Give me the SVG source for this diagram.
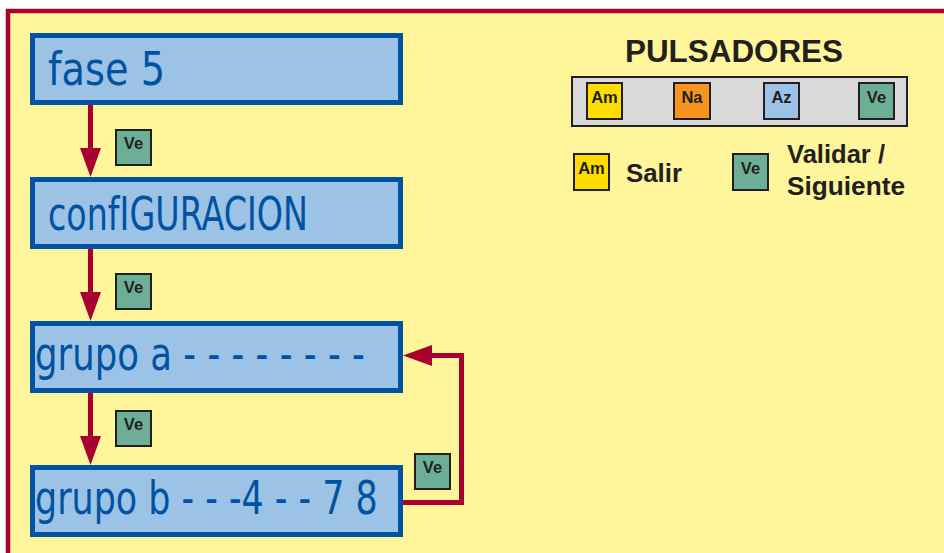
<svg xmlns="http://www.w3.org/2000/svg" width="944" height="553" viewBox="0 0 944 553">
  <defs>
    <style>
      .frame { fill: #fff59b; stroke: #a8002f; stroke-width: 4.5; }
      .state { fill: #9cc2e6; stroke: #0052a2; stroke-width: 5; }
      .state-text { font-family: "DejaVu Sans", "Liberation Sans", sans-serif; font-size: 46px; fill: #0052a2; }
      .wire { fill: none; stroke: #a8002f; stroke-width: 5; }
      .key { stroke: #231f20; stroke-width: 2; }
      .key-text { font-family: "Liberation Sans", Arial, sans-serif; font-weight: bold; font-size: 16.5px; fill: #231f20; text-anchor: middle; }
      .am { fill: #ffdc00; }
      .na { fill: #f7941e; }
      .az { fill: #9cc2e6; }
      .ve { fill: #6dae96; }
      .label { font-family: "Liberation Sans", Arial, sans-serif; font-weight: bold; fill: #231f20; }
    </style>
    <marker id="head" markerUnits="userSpaceOnUse" markerWidth="29" markerHeight="21" refX="0" refY="10.5" orient="auto">
      <path d="M0,0 L29,10.5 L0,21 Z" fill="#a8002f"/>
    </marker>
  </defs>

  <!-- background and frame -->
  <rect x="0" y="0" width="944" height="553" fill="#ffffff"/>
  <rect class="frame" x="8" y="11" width="960" height="560"/>

  <!-- connectors -->
  <g id="connectors">
    <path class="wire" d="M90.5,105 V148" marker-end="url(#head)"/>
    <path class="wire" d="M90.5,249 V292" marker-end="url(#head)"/>
    <path class="wire" d="M90.5,393 V436" marker-end="url(#head)"/>
    <path class="wire" d="M403,502.5 H461.5 V355.5 H432" marker-end="url(#head)"/>
    <g id="key-ve-1">
      <rect class="key ve" x="116" y="130" width="35" height="35"/>
      <text class="key-text" x="133.5" y="149">Ve</text>
    </g>
    <g id="key-ve-2">
      <rect class="key ve" x="116" y="274" width="35" height="35"/>
      <text class="key-text" x="133.5" y="293">Ve</text>
    </g>
    <g id="key-ve-3">
      <rect class="key ve" x="116" y="411" width="35" height="35"/>
      <text class="key-text" x="133.5" y="430">Ve</text>
    </g>
    <g id="key-ve-4">
      <rect class="key ve" x="415" y="454" width="35" height="35"/>
      <text class="key-text" x="432.5" y="473">Ve</text>
    </g>
  </g>

  <!-- display states (text narrowed to a condensed face) -->
  <g id="fase5">
    <rect class="state" x="32.5" y="35.5" width="368" height="67"/>
    <text class="state-text" transform="translate(48,85) scale(0.76,1)" textLength="154" lengthAdjust="spacingAndGlyphs">fase 5</text>
  </g>
  <g id="configuracion">
    <rect class="state" x="32.5" y="179.5" width="368" height="67"/>
    <text class="state-text" transform="translate(48,230) scale(0.76,1)" textLength="342" lengthAdjust="spacingAndGlyphs">confIGURACION</text>
  </g>
  <g id="grupo-a">
    <rect class="state" x="32.5" y="323.5" width="368" height="67"/>
    <text class="state-text" transform="translate(35,370) scale(0.76,1)" textLength="434" lengthAdjust="spacingAndGlyphs">grupo a - - - - - - - -</text>
  </g>
  <g id="grupo-b">
    <rect class="state" x="32.5" y="467.5" width="368" height="67"/>
    <text class="state-text" transform="translate(35,514) scale(0.76,1)" textLength="451" lengthAdjust="spacingAndGlyphs">grupo b - - -4 - - 7 8</text>
  </g>

  <!-- button legend -->
  <g id="pulsadores">
    <text class="label" x="625" y="62" font-size="31" textLength="218" lengthAdjust="spacingAndGlyphs">PULSADORES</text>
    <rect x="572" y="77" width="335" height="49" fill="#d9d9da" stroke="#231f20" stroke-width="2"/>
    <rect class="key am" x="587" y="83" width="35" height="36"/>
    <text class="key-text" x="604.5" y="103">Am</text>
    <rect class="key na" x="674" y="83" width="36" height="36"/>
    <text class="key-text" x="692" y="103">Na</text>
    <rect class="key az" x="764" y="83" width="35" height="36"/>
    <text class="key-text" x="781.5" y="103">Az</text>
    <rect class="key ve" x="859" y="83" width="35" height="36"/>
    <text class="key-text" x="876.5" y="103">Ve</text>
  </g>
  <g id="legend-salir">
    <rect class="key am" x="574" y="154" width="35" height="36"/>
    <text class="key-text" x="591.5" y="174">Am</text>
    <text class="label" x="626" y="182" font-size="25.5" textLength="56" lengthAdjust="spacingAndGlyphs">Salir</text>
  </g>
  <g id="legend-validar">
    <rect class="key ve" x="733" y="154" width="35" height="36"/>
    <text class="key-text" x="750.5" y="174">Ve</text>
    <text class="label" x="787" y="163" font-size="25" textLength="98" lengthAdjust="spacingAndGlyphs">Validar /</text>
    <text class="label" x="787" y="195" font-size="25" textLength="118" lengthAdjust="spacingAndGlyphs">Siguiente</text>
  </g>
</svg>
